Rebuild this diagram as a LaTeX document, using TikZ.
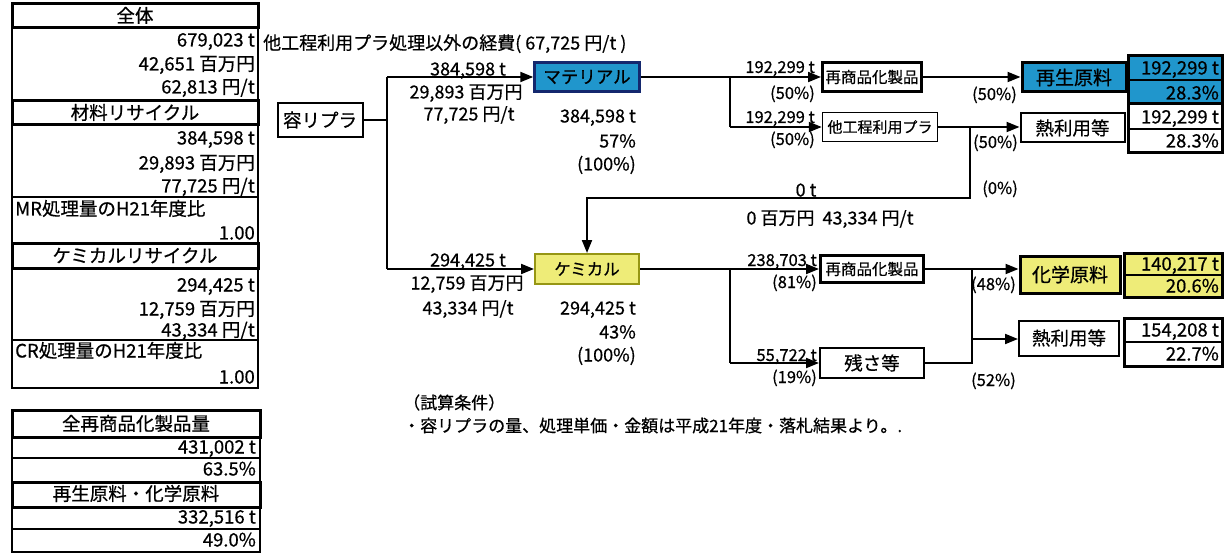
\documentclass[tikz,border=0pt]{standalone}
\usepackage{fontspec}
\setmainfont{Noto Sans CJK JP}[FakeBold=0.6]
\usetikzlibrary{arrows.meta}
\newcommand\fsz[1]{\fontsize{#1}{#1}\selectfont}
\definecolor{mblue}{RGB}{32,150,204}
\definecolor{mnavy}{RGB}{20,40,110}
\definecolor{cyel}{RGB}{238,236,120}
\definecolor{colive}{RGB}{150,150,20}
\begin{document}
\begin{tikzpicture}[x=1pt,y=-1pt,
  lt/.style={inner sep=0pt, text height=13pt, text depth=0pt, font=\fsz{18.5}},
  ft/.style={inner sep=0pt, text height=13pt, text depth=0pt, font=\fsz{18}},
  st/.style={inner sep=0pt, text height=12pt, text depth=0pt, font=\fsz{16.5}},
  nt/.style={inner sep=0pt, text height=12pt, text depth=0pt, font=\fsz{17}},
  box/.style={draw, line width=1.5pt, inner sep=0pt, align=center},
  flow/.style={line width=2pt},
  arr/.style={line width=2pt, -{Triangle[length=13pt,width=10pt]}},
  hdr/.style={line width=3pt},
  thin/.style={line width=1.5pt}]
\useasboundingbox (0,0) rectangle (1230,553);
% ---------- left table 1 ----------
\draw[thin] (12,4) rectangle (258,388);
\draw[thin] (12,197) -- (258,197);
\draw[thin] (12,340) -- (258,340);
\draw[hdr] (12,4) rectangle (258,28);
\draw[hdr] (12,101) rectangle (258,125);
\draw[hdr] (12,243) rectangle (258,268);
\node[lt] (h1) at (135,16) {全体};
\node[lt,anchor=east] (a1) at (255,40) {679,023 t};
\node[lt,anchor=east] (a2) at (255,64) {42,651 百万円};
\node[lt,anchor=east] (a3) at (255,87) {62,813 円/t};
\node[lt] (h2) at (135,113) {材料リサイクル};
\node[lt,anchor=east] (b1) at (255,138) {384,598 t};
\node[lt,anchor=east] (b2) at (255,163) {29,893 百万円};
\node[lt,anchor=east] (b3) at (255,186) {77,725 円/t};
\node[lt,anchor=west] (b4) at (15,209) {MR処理量のH21年度比};
\node[lt,anchor=east] (b5) at (255,233) {1.00};
\node[lt] (h3) at (135,256) {ケミカルリサイクル};
\node[lt,anchor=east] (c1) at (255,285) {294,425 t};
\node[lt,anchor=east] (c2) at (255,309) {12,759 百万円};
\node[lt,anchor=east] (c3) at (255,330) {43,334 円/t};
\node[lt,anchor=west] (c4) at (15,351) {CR処理量のH21年度比};
\node[lt,anchor=east] (c5) at (255,377) {1.00};
% ---------- left table 2 ----------
\draw[thin] (12,437) rectangle (260,458);
\draw[thin] (12,458) rectangle (260,482);
\draw[thin] (12,507) rectangle (260,529);
\draw[thin] (12,529) rectangle (260,552);
\draw[hdr] (12,410) rectangle (260,437);
\draw[hdr] (12,482) rectangle (260,507);
\node[lt] (h4) at (136,424) {全再商品化製品量};
\node[lt,anchor=east] (d1) at (256,447) {431,002 t};
\node[lt,anchor=east] (d2) at (256,469) {63.5\%};
\node[lt] (h5) at (136,494) {再生原料・化学原料};
\node[lt,anchor=east] (d3) at (256,517) {332,516 t};
\node[lt,anchor=east] (d4) at (256,540) {49.0\%};
% ---------- flow boxes ----------
\node[box, line width=2pt, minimum width=85, minimum height=34, font=\fsz{18.5}] (yori) at (320,120) {容リプラ};
\node[box, line width=2.5pt, draw=mnavy, fill=mblue, minimum width=105, minimum height=29, font=\fsz{17.5}] (mat) at (587,77) {マテリアル};
\node[box, line width=2pt, draw=colive, fill=cyel, minimum width=104, minimum height=30, font=\fsz{16.5}] (chem) at (587,269) {ケミカル};
\node[box, line width=3pt, minimum width=99, minimum height=29, font=\fsz{15.5}] (sai1) at (872,77) {再商品化製品};
\node[box, minimum width=115, minimum height=29, font=\fsz{15}] (tako) at (880,127) {他工程利用プラ};
\node[box, line width=3pt, fill=mblue, minimum width=104, minimum height=29, font=\fsz{19}] (saisei) at (1074,77.5) {再生原料};
\node[box, line width=2pt, minimum width=104, minimum height=29, font=\fsz{18.5}] (netsu1) at (1072.5,128) {熱利用等};
\node[box, line width=3pt, minimum width=103, minimum height=27, font=\fsz{15.5}] (sai2) at (872,269) {再商品化製品};
\node[box, line width=2pt, minimum width=104, minimum height=30, font=\fsz{18.5}] (zansa) at (872,363) {残さ等};
\node[box, line width=3pt, fill=cyel, minimum width=100, minimum height=37, font=\fsz{19}] (kagaku) at (1070,274.5) {化学原料};
\node[box, line width=2pt, minimum width=100, minimum height=35, font=\fsz{18.5}] (netsu2) at (1069,338) {熱利用等};
% ---------- result boxes ----------
\fill[mblue] (1128,56) rectangle (1222,104);
\draw[thin] (1128,80) -- (1222,80);
\draw[thin] (1128,129) -- (1222,129);
\draw[hdr] (1128,104) -- (1222,104);
\draw[hdr] (1128,56) rectangle (1222,153);
\node[lt,anchor=east] (r1) at (1219,68) {192,299 t};
\node[lt,anchor=east] (r2) at (1219,93) {28.3\%};
\node[lt,anchor=east] (r3) at (1219,117) {192,299 t};
\node[lt,anchor=east] (r4) at (1219,141) {28.3\%};
\fill[cyel] (1124,253) rectangle (1222,297);
\draw[thin] (1124,275) -- (1222,275);
\draw[hdr] (1124,253) rectangle (1222,297);
\draw[thin] (1124,342) -- (1222,342);
\draw[hdr] (1124,318) rectangle (1222,366);
\node[lt,anchor=east] (r5) at (1219,264) {140,217 t};
\node[lt,anchor=east] (r6) at (1219,286) {20.6\%};
\node[lt,anchor=east] (r7) at (1219,330) {154,208 t};
\node[lt,anchor=east] (r8) at (1219,354) {22.7\%};
% ---------- connectors ----------
\coordinate (tTop) at (387,77);
\coordinate (tBot) at (387,269);
\draw[flow] (yori.east) -- (yori.east -| tTop);
\draw[flow] (tTop) -- (tBot);
\draw[arr] (tTop) -- (mat.west);
\draw[arr] (tBot) -- (chem.west);
\coordinate (mS) at (730,77);
\coordinate (mS2) at (730,127);
\draw[flow] (mat.east) -- (mS) -- (mS2);
\draw[arr] (mS) -- (sai1.west);
\draw[arr] (mS2) -- (tako.west);
\draw[arr] (sai1.east) -- (saisei.west |- sai1.east);
\draw[arr] (tako.east) -- (netsu1.west |- tako.east);
\coordinate (rJ) at (970,127);
\coordinate (rB) at (970,198);
\coordinate (lB) at (587,198);
\draw[arr] (rJ) -- (rB) -- (lB) -- (chem.north);
\coordinate (cS) at (730,269);
\coordinate (cS2) at (730,363);
\draw[flow] (chem.east) -- (cS) -- (cS2);
\draw[arr] (cS) -- (sai2.west);
\draw[arr] (cS2) -- (zansa.west);
\coordinate (cJ) at (972,269);
\coordinate (cJ2) at (972,363);
\coordinate (cJm) at (972,339);
\draw[flow] (sai2.east) -- (cJ) -- (cJ2) -- (zansa.east);
\draw[arr] (cJ) -- (kagaku.west |- cJ);
\draw[arr] (cJm) -- (netsu2.west |- cJm);
% ---------- flow labels ----------
\node[ft,anchor=west] (top) at (263,43) {他工程利用プラ処理以外の経費(\ 67,725 円/t )};
\node[ft] (m1) at (468,69) {384,598 t};
\node[ft] (m2) at (466,92) {29,893 百万円};
\node[ft] (m3) at (469,114) {77,725 円/t};
\node[ft,anchor=east] (m4) at (636,116) {384,598 t};
\node[ft,anchor=east] (m5) at (636,141) {57\%};
\node[ft,anchor=east] (m6) at (636,164) {(100\%)};
\node[ft] (k1) at (468,260) {294,425 t};
\node[ft] (k2) at (467,283) {12,759 百万円};
\node[ft] (k3) at (468,308) {43,334 円/t};
\node[ft,anchor=east] (k4) at (636,308) {294,425 t};
\node[ft,anchor=east] (k5) at (636,332) {43\%};
\node[ft,anchor=east] (k6) at (636,355) {(100\%)};
\node[st,anchor=east] (p1) at (815,67) {192,299 t};
\node[st,anchor=east] (p2) at (815,93) {(50\%)};
\node[st,anchor=east] (p3) at (815,117) {192,299 t};
\node[st,anchor=east] (p4) at (815,139) {(50\%)};
\node[st,anchor=east] (p5) at (1017,94) {(50\%)};
\node[st,anchor=east] (p6) at (1018,142) {(50\%)};
\node[st,anchor=east] (p7) at (1018,188) {(0\%)};
\node[ft] (z1) at (806,190) {0 t};
\node[ft] (z2) at (830,218) {0 百万円\ \ 43,334 円/t};
\node[st,anchor=east] (q1) at (817,260) {238,703 t};
\node[st,anchor=east] (q2) at (817,282) {(81\%)};
\node[st,anchor=east] (q3) at (817,355) {55,722 t};
\node[st,anchor=east] (q4) at (817,377) {(19\%)};
\node[st,anchor=east] (q5) at (1016,284) {(48\%)};
\node[st,anchor=east] (q6) at (1016,380) {(52\%)};
\node[nt,anchor=west] (n1) at (403,403) {（試算条件）};
\node[nt,anchor=west] (n2) at (403,426) {・容リプラの量、処理単価・金額は平成21年度・落札結果より。.};
\end{tikzpicture}
\end{document}
